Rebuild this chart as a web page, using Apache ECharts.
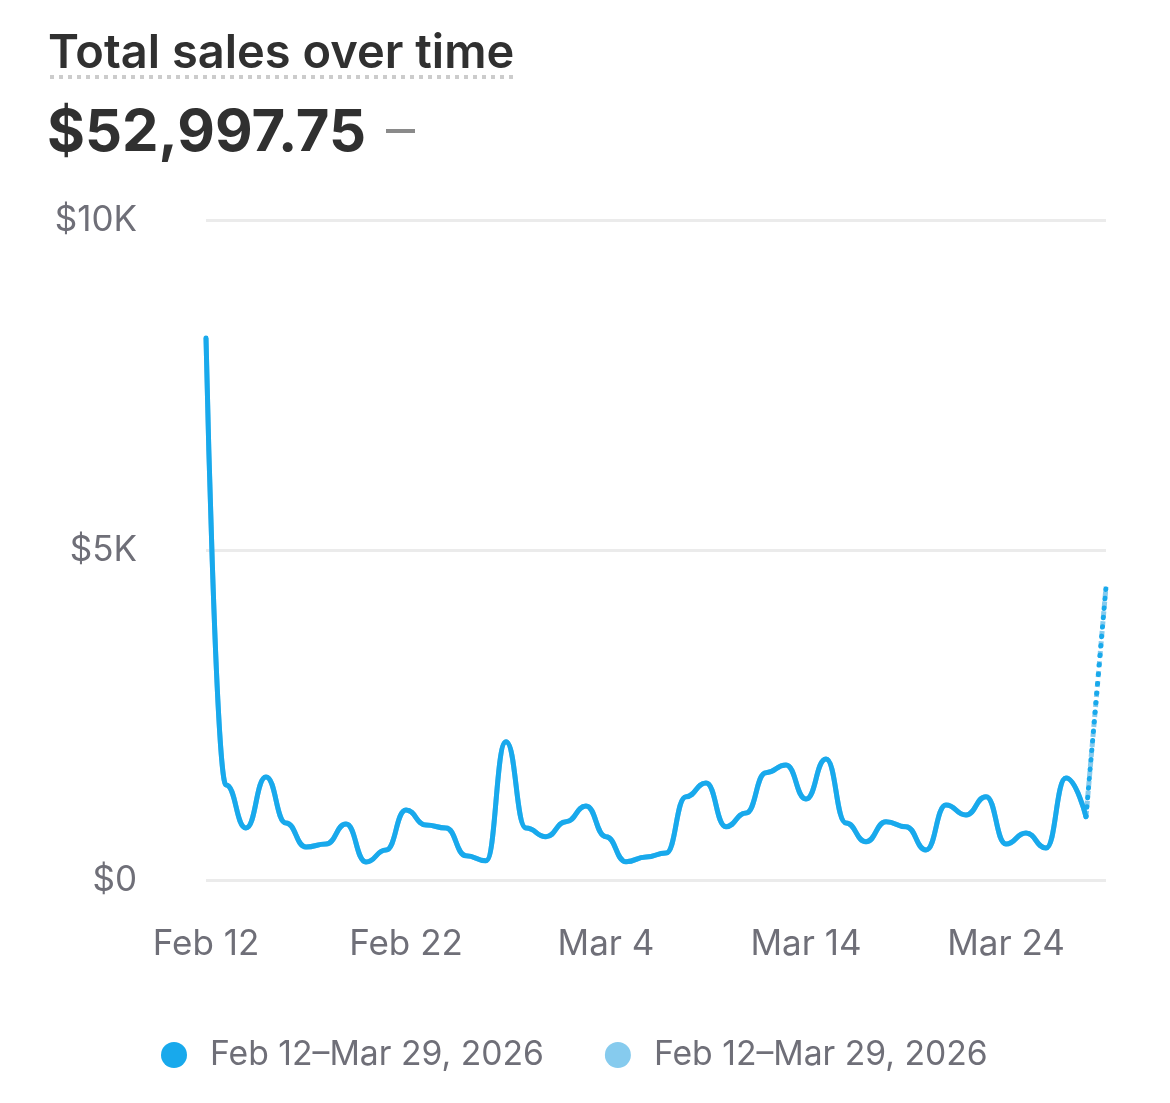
<!DOCTYPE html>
<html>
<head>
<meta charset="utf-8">
<script src="https://cdn.jsdelivr.net/npm/echarts@6/dist/echarts.min.js"></script>
<style>
  html, body { margin: 0; padding: 0; background: #fff; }
  #main { width: 1170px; height: 1103px; }
</style>
</head>
<body>
<div id="main"></div>
<script>
// daily dates, Feb 12 - Mar 29, 2026
let days = ['Feb 12', 'Feb 13', 'Feb 14', 'Feb 15', 'Feb 16', 'Feb 17', 'Feb 18', 'Feb 19', 'Feb 20', 'Feb 21',
    'Feb 22', 'Feb 23', 'Feb 24', 'Feb 25', 'Feb 26', 'Feb 27', 'Feb 28', 'Mar 1', 'Mar 2', 'Mar 3',
    'Mar 4', 'Mar 5', 'Mar 6', 'Mar 7', 'Mar 8', 'Mar 9', 'Mar 10', 'Mar 11', 'Mar 12', 'Mar 13',
    'Mar 14', 'Mar 15', 'Mar 16', 'Mar 17', 'Mar 18', 'Mar 19', 'Mar 20', 'Mar 21', 'Mar 22', 'Mar 23',
    'Mar 24', 'Mar 25', 'Mar 26', 'Mar 27', 'Mar 28', 'Mar 29'];
let currentSales = [8212, 1440, 788, 1560, 864, 500, 545, 848, 273, 455,
    1060, 833, 788, 368, 293, 2096, 788, 656, 883, 1121,
    656, 277, 348, 409, 1263, 1470, 808, 1015, 1626, 1742,
    1227, 1833, 864, 581, 883, 808, 455, 1136, 985, 1263,
    545, 712, 485, 1545, 960, 4444];
// comparison period is the same range, so same numbers
let comparisonSales = [8212, 1440, 788, 1560, 864, 500, 545, 848, 273, 455,
    1060, 833, 788, 368, 293, 2096, 788, 656, 883, 1121,
    656, 277, 348, 409, 1263, 1470, 808, 1015, 1626, 1742,
    1227, 1833, 864, 581, 883, 808, 455, 1136, 985, 1263,
    545, 712, 485, 1545, 960, 4444];
let yTicks = ['$0', '$5K', '$10K'];
let legendLabel = 'Feb 12\u2013Mar 29, 2026';
let totalSales = '$52,997.75';

let labelColor = '#6f6f78';
let darkBlue = '#18a9ec';
let lightBlue = '#86cbee';

// last day is incomplete -> drawn dotted
function solidPart(arr) {
    return arr.map((v, i) => i < arr.length - 1 ? v : null);
}
function lastPart(arr) {
    return arr.map((v, i) => i >= arr.length - 2 ? v : null);
}

var myChart = echarts.init(document.getElementById('main'));

var option = {
    animation: false,
    textStyle: { fontFamily: 'Inter' },
    grid: { left: 206, right: 64, top: 220, bottom: 223 },
    graphic: [
        {
            type: 'text', left: 48, top: 30,
            style: { text: 'Total sales over time', font: '600 47px Inter', fill: '#303030' }
        },
        {
            type: 'line',
            shape: { x1: 50, y1: 77, x2: 516, y2: 77 },
            style: { stroke: '#cccccc', lineWidth: 4, lineDash: [4, 5] }
        },
        {
            type: 'text', left: 47, top: 105,
            style: { text: totalSales, font: '700 58px Inter', fill: '#303030' }
        },
        {
            type: 'line',
            shape: { x1: 386, y1: 131, x2: 415, y2: 131 },
            style: { stroke: '#8a8a8a', lineWidth: 4 }
        }
    ],
    legend: {
        bottom: 26,
        left: 156,
        itemWidth: 26,
        itemHeight: 26,
        itemGap: 61,
        icon: 'circle',
        data: ['current', 'comparison'],
        formatter: () => legendLabel,
        textStyle: { fontSize: 33.7, color: labelColor, fontFamily: 'Inter', padding: [0, 0, 0, 18] }
    },
    xAxis: {
        type: 'category',
        data: days,
        boundaryGap: false,
        axisLine: { show: false },
        axisTick: { show: false },
        axisLabel: {
            interval: 9,
            margin: 47,
            fontSize: 35,
            color: labelColor
        }
    },
    yAxis: {
        type: 'value',
        min: 0,
        max: 10000,
        interval: 5000,
        axisLabel: {
            margin: 69,
            fontSize: 35,
            color: labelColor,
            formatter: (v) => yTicks[v / 5000]
        },
        splitLine: { lineStyle: { color: '#ebebeb', width: 3 } }
    },
    series: [
        {
            name: 'comparison', type: 'line', data: solidPart(comparisonSales),
            smooth: 0.5, smoothMonotone: 'x', showSymbol: false, z: 2,
            itemStyle: { color: lightBlue },
            lineStyle: { color: lightBlue, width: 5 }
        },
        {
            name: 'comparison', type: 'line', data: lastPart(comparisonSales),
            smooth: 0.5, smoothMonotone: 'x', showSymbol: false, z: 2,
            itemStyle: { color: lightBlue },
            lineStyle: { color: lightBlue, width: 5, type: [6, 4] }
        },
        {
            name: 'current', type: 'line', data: solidPart(currentSales),
            smooth: 0.5, smoothMonotone: 'x', showSymbol: false, z: 3,
            itemStyle: { color: darkBlue },
            lineStyle: { color: darkBlue, width: 5, cap: 'round', join: 'round' }
        },
        {
            name: 'current', type: 'line', data: lastPart(currentSales),
            smooth: 0.5, smoothMonotone: 'x', showSymbol: false, z: 3,
            itemStyle: { color: darkBlue },
            lineStyle: { color: darkBlue, width: 5, type: [0.5, 9], cap: 'round' }
        }
    ]
};

myChart.setOption(option);
</script>
</body>
</html>
